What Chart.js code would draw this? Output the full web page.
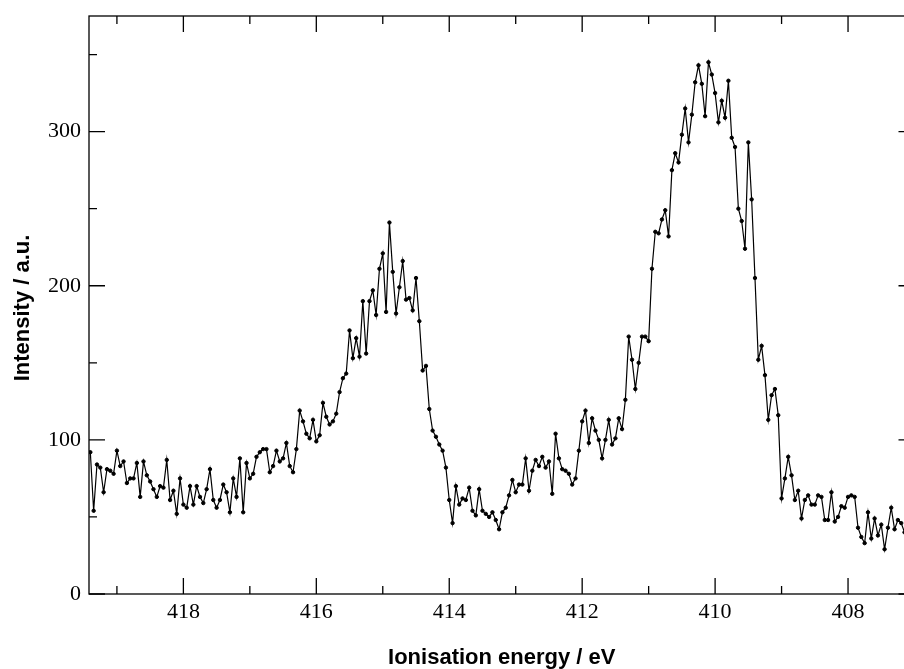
<!DOCTYPE html>
<html><head><meta charset="utf-8">
<script src="https://cdn.jsdelivr.net/npm/chart.js@4.4.0/dist/chart.umd.min.js"></script>
<style>
html,body{margin:0;padding:0;overflow:hidden;background:#fff;width:904px;height:669px}
#wrap{position:absolute;left:0;top:0;width:920px;height:669px}
</style>
</head><body><div id="wrap"><canvas id="c" width="920" height="669"></canvas></div>
<script>
// Energy grid (eV): first sample and sampling step
const energyStart = 419.40;
const energyStep = 0.05;
// Intensity (a.u.), one value per energy sample
const intensity = [
  92, 54, 84, 82, 66, 81, 80, 78, 93, 83, 86, 72, 75, 75, 85, 63, 86, 77, 73, 68,
  63, 70, 69, 87, 61, 67, 52, 75, 58, 56, 70, 58, 70, 63, 59, 68, 81, 61, 56, 61,
  71, 66, 53, 75, 63, 88, 53, 85, 75, 78, 89, 92, 94, 94, 79, 83, 93, 86, 88, 98,
  83, 79, 94, 119, 112, 104, 101, 113, 99, 103, 124, 115, 110, 112, 117, 131, 140, 143, 171, 153,
  166, 154, 190, 156, 190, 197, 181, 211, 221, 183, 241, 209, 182, 199, 216, 191, 192, 184, 205, 177,
  145, 148, 120, 106, 102, 97, 93, 82, 61, 46, 70, 58, 62, 61, 69, 54, 51, 68, 54, 52,
  50, 53, 48, 42, 53, 56, 64, 74, 66, 71, 71, 88, 67, 80, 87, 83, 89, 82, 86, 65,
  104, 88, 81, 80, 78, 71, 75, 93, 112, 119, 98, 114, 106, 100, 88, 100, 113, 97, 101, 114,
  107, 126, 167, 152, 133, 150, 167, 167, 164, 211, 235, 234, 243, 249, 232, 275, 286, 280, 298, 315,
  293, 311, 332, 343, 331, 310, 345, 337, 325, 306, 320, 309, 333, 296, 290, 250, 242, 224, 293, 256,
  205, 152, 161, 142, 113, 129, 133, 116, 62, 75, 89, 77, 61, 67, 49, 61, 64, 58, 58, 64,
  63, 48, 48, 66, 47, 50, 57, 56, 63, 64, 63, 43, 37, 33, 53, 36, 49, 38, 45, 29,
  43, 56, 42, 48, 46, 40
];
const xMajorTicks = [408, 410, 412, 414, 416, 418];
const xMinorTicks = [407, 409, 411, 413, 415, 417, 419];
const yMajorTicks = [0, 100, 200, 300];
const yMinorTicks = [50, 150, 250, 350];
const xRange = [407.0, 419.42];
const yRange = [0, 375];
const xTitle = 'Ionisation energy / eV';
const yTitle = 'Intensity / a.u.';

const points = intensity.map((v, i) => ({ x: +(energyStart - energyStep * i).toFixed(2), y: v }));

const frameAndTicks = {
  id: 'frameAndTicks',
  afterDraw(chart) {
    const { ctx, chartArea: a, scales: { x, y } } = chart;
    ctx.save();
    ctx.strokeStyle = '#000';
    ctx.lineWidth = 1.3;
    ctx.strokeRect(a.left, a.top, a.right - a.left, a.bottom - a.top);
    ctx.beginPath();
    const xt = (vals, len) => vals.forEach(v => {
      const p = x.getPixelForValue(v);
      if (p < a.left - 0.5 || p > a.right + 0.5) return;
      ctx.moveTo(p, a.bottom); ctx.lineTo(p, a.bottom - len);
      ctx.moveTo(p, a.top); ctx.lineTo(p, a.top + len);
    });
    const yt = (vals, len) => vals.forEach(v => {
      const p = y.getPixelForValue(v);
      if (p < a.top - 0.5 || p > a.bottom + 0.5) return;
      ctx.moveTo(a.left, p); ctx.lineTo(a.left + len, p);
      ctx.moveTo(a.right, p); ctx.lineTo(a.right - len, p);
    });
    xt(xMajorTicks, 16); xt(xMinorTicks, 8);
    yt(yMajorTicks, 16); yt(yMinorTicks, 8);
    ctx.stroke();
    // axis titles
    ctx.fillStyle = '#000';
    ctx.font = 'bold 22px "Liberation Sans", Arial, sans-serif';
    ctx.textAlign = 'center';
    ctx.textBaseline = 'alphabetic';
    ctx.fillText(xTitle, (a.left + a.right) / 2, 664);
    ctx.translate(29, 308);
    ctx.rotate(-Math.PI / 2);
    ctx.fillText(yTitle, 0, 0);
    ctx.restore();
  }
};

const tickFont = { family: '"Liberation Serif", "Times New Roman", serif', size: 22 };
const noPad = s => { s.paddingTop = 0; s.paddingBottom = 0; s.paddingLeft = 0; s.paddingRight = 0; };

new Chart(document.getElementById('c'), {
  type: 'line',
  data: {
    datasets: [{
      data: points,
      borderColor: '#000',
      borderWidth: 1.2,
      pointRadius: 1.7,
      pointBorderWidth: 1,
      pointBackgroundColor: '#000',
      pointBorderColor: '#000',
      tension: 0,
      fill: false
    }]
  },
  options: {
    responsive: false,
    animation: false,
    devicePixelRatio: 1,
    layout: { padding: { top: 16, right: 5.5, left: 0, bottom: 0 } },
    plugins: { legend: { display: false }, tooltip: { enabled: false } },
    scales: {
      x: {
        type: 'linear', reverse: true, min: xRange[0], max: xRange[1],
        afterBuildTicks: s => { s.ticks = xMajorTicks.map(v => ({ value: v })); },
        afterFit: s => { s.height = 75; noPad(s); },
        grid: { display: false, drawTicks: false },
        border: { display: false },
        ticks: { font: tickFont, color: '#000', padding: 5, maxRotation: 0, autoSkip: false, callback: v => String(v) }
      },
      y: {
        type: 'linear', min: yRange[0], max: yRange[1],
        afterBuildTicks: s => { s.ticks = yMajorTicks.map(v => ({ value: v })); },
        afterFit: s => { s.width = 89; noPad(s); },
        grid: { display: false, drawTicks: false },
        border: { display: false },
        ticks: { font: tickFont, color: '#000', padding: 8, autoSkip: false, callback: v => String(v) }
      }
    }
  },
  plugins: [frameAndTicks]
});
</script>
</body></html>
